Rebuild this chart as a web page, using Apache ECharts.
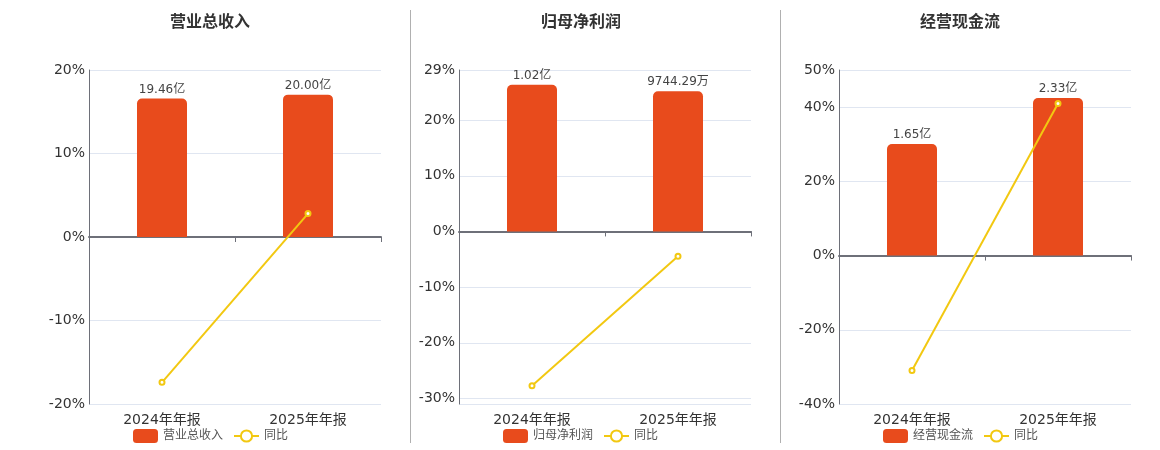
<!DOCTYPE html>
<html>
<head>
<meta charset="utf-8">
<script src="https://cdn.jsdelivr.net/npm/echarts@6/dist/echarts.min.js"></script>
<style>
  html, body { margin: 0; padding: 0; background: #fff; }
  #chart { width: 1160px; height: 450px; }
</style>
</head>
<body>
<div id="chart"></div>
<script>
// Data (amounts in 亿, yoy in %)
const categories = ["2024年年报", "2025年年报"];
const panelTitles = ["营业总收入", "归母净利润", "经营现金流"];

const revenue = [19.46, 20.0];
const revenueYoy = [-17.4, 2.8];

const netProfit = [1.02, 0.974429];
const netProfitYoy = [-27.7, -4.47];

const cashFlow = [1.65, 2.33];
const cashFlowYoy = [-31.0, 41.0];

// Axis ranges of each panel: [min, max]
const pctRanges = [[-20, 20], [-31, 29], [-40, 50]];
const pctIntervals = [10, null, 20];
const barRanges = [[-23.46, 23.46], [-1.2, 1.122], [-2.195, 2.744]];

const barValues = [revenue, netProfit, cashFlow];
const yoyValues = [revenueYoy, netProfitYoy, cashFlowYoy];

// Layout
const gridLefts = [89, 459, 839];
const titleCenters = [210, 581, 960];
const legendLefts = [133, 503, 883];

const barColor = "#E84B1C";
const lineColor = "#F2C811";
const axisColor = "#6E7079";
const fontFamily = "DejaVu Sans, Noto Sans CJK SC, sans-serif";

// Format 亿 / 万
const formatAmount = (v) => {
  if (v >= 1) return v.toFixed(2) + "亿";
  return (v * 10000).toFixed(2) + "万";
};

const option = {
  animation: false,
  textStyle: { fontFamily: fontFamily },
  title: [],
  legend: [],
  grid: [],
  xAxis: [],
  yAxis: [],
  series: [],
  graphic: [410.5, 780.5].map((x) => ({
    type: "line",
    shape: { x1: x, y1: 10, x2: x, y2: 443 },
    style: { stroke: "#B0B0B0", lineWidth: 1 },
  })),
};

for (let i = 0; i < 3; i++) {
  option.title.push({
    text: panelTitles[i],
    left: titleCenters[i],
    top: 15,
    padding: 0,
    textAlign: "center",
    textStyle: { fontSize: 16, fontWeight: "bold", color: "#333", fontFamily: fontFamily },
  });

  option.legend.push({
    data: [panelTitles[i], "同比"],
    left: legendLefts[i],
    top: 429,
    padding: 0,
    itemWidth: 25,
    itemHeight: 14,
    itemGap: 10,
    textStyle: { fontSize: 12, color: "#555", fontFamily: fontFamily },
  });

  option.grid.push({
    left: gridLefts[i],
    width: 292,
    top: 70,
    height: 334,
  });

  // x axis on zero: line + ticks only
  option.xAxis.push({
    type: "category",
    gridIndex: i,
    data: categories,
    position: "bottom",
    axisLine: { onZero: true, lineStyle: { color: axisColor, width: 2 } },
    axisTick: { show: true, length: 5, lineStyle: { color: axisColor, width: 1 } },
    axisLabel: { show: false },
  });
  // x axis at bottom: labels only
  option.xAxis.push({
    type: "category",
    gridIndex: i,
    data: categories,
    position: "bottom",
    axisLine: { show: false, onZero: false },
    axisTick: { show: false },
    axisLabel: { show: true, fontSize: 14, color: "#333", margin: 9, fontFamily: fontFamily },
  });

  const pctAxis = {
    type: "value",
    gridIndex: i,
    position: "left",
    min: pctRanges[i][0],
    max: pctRanges[i][1],
    axisLine: { show: true, lineStyle: { color: axisColor, width: 1 } },
    axisTick: { show: false },
    axisLabel: {
      formatter: "{value}%",
      fontSize: 14,
      color: "#333",
      margin: 4,
      padding: [3, 0, 0, 0],
      fontFamily: fontFamily,
      showMinLabel: pctIntervals[i] !== null,
    },
    splitLine: { show: true, lineStyle: { color: "#E0E6F1" } },
  };
  if (pctIntervals[i] !== null) pctAxis.interval = pctIntervals[i];
  option.yAxis.push(pctAxis);

  option.yAxis.push({
    type: "value",
    gridIndex: i,
    position: "right",
    show: false,
    min: barRanges[i][0],
    max: barRanges[i][1],
    splitLine: { show: false },
  });

  option.series.push({
    name: panelTitles[i],
    type: "bar",
    xAxisIndex: i * 2,
    yAxisIndex: i * 2 + 1,
    data: barValues[i],
    barWidth: 50,
    itemStyle: { color: barColor, borderRadius: [5, 5, 0, 0] },
    label: {
      show: true,
      position: "top",
      distance: 3,
      fontSize: 12,
      color: "#444",
      fontFamily: fontFamily,
      formatter: (p) => formatAmount(p.value),
    },
  });

  option.series.push({
    name: "同比",
    type: "line",
    xAxisIndex: i * 2,
    yAxisIndex: i * 2,
    data: yoyValues[i],
    symbol: "emptyCircle",
    symbolSize: 5,
    lineStyle: { color: lineColor, width: 2 },
    itemStyle: { color: lineColor, borderWidth: 1.5 },
  });
}

const chart = echarts.init(document.getElementById("chart"));
chart.setOption(option);
window.addEventListener("resize", () => chart.resize());
</script>
</body>
</html>
